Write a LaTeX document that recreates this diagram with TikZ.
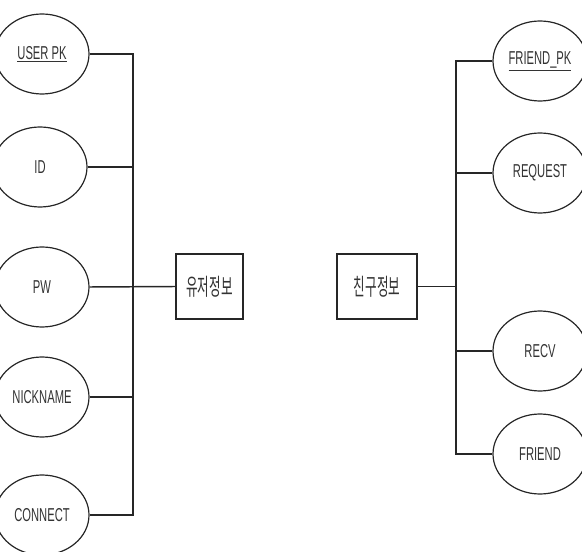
\documentclass[tikz,border=0pt]{standalone}
\usepackage{fontspec}
\setmainfont[FakeStretch=0.6]{Liberation Sans}
\newfontfamily\kofont[FakeStretch=0.54]{Noto Sans CJK KR}
\usetikzlibrary{shapes.geometric}
\begin{document}
\begin{tikzpicture}[x=0.75pt,y=-0.75pt,
  attr/.style={draw=black!85, line width=0.9pt, ellipse, minimum width=70.5pt,
    minimum height=60pt, inner sep=0pt, text=black!80, font=\fontsize{14}{16}\selectfont},
  entity/.style={draw=black!85, line width=0.9pt, rectangle, inner sep=0pt,
    text=black!80, font=\kofont\fontsize{17.5}{19}\selectfont},
  link/.style={draw=black!85, line width=1.1pt}]
\useasboundingbox (0,0) rectangle (582,552);

% user entity and its attributes
\node[entity, minimum width=50.25pt, minimum height=48.75pt] (user) at (209.5,286.5) {유저정보};
\node[attr] (upk)  at (42,54)  {\underline{USER PK}};
\node[attr] (uid)  at (40,167) {ID};
\node[attr] (upw)  at (42,287) {PW};
\node[attr] (unick) at (42,397) {NICKNAME};
\node[attr] (ucon) at (42,515) {CONNECT};

\coordinate (ubusTop) at (133,54);
\coordinate (ubusBot) at (133,515);
\draw[link] (upk.east) -- (ubusTop) -- (ubusBot) -- (ucon.east);
\draw[link] (uid.east) -- (133,167);
\draw[link] (unick.east) -- (133,397);
\draw[link] (upw.east) -- (user.west);

% friend entity and its attributes
\node[entity, minimum width=60pt, minimum height=48.75pt] (friend) at (377,286.5) {친구정보};
\node[attr] (fpk)  at (540,61)  {\underline{FRIEND\_PK}};
\node[attr] (freq) at (540,173) {REQUEST};
\node[attr] (frecv) at (540,351) {RECV};
\node[attr] (ffr)  at (540,454) {FRIEND};

\coordinate (fbusTop) at (456,61);
\coordinate (fbusBot) at (456,454);
\draw[link] (fpk.west) -- (fbusTop) -- (fbusBot) -- (ffr.west);
\draw[link] (freq.west) -- (456,173);
\draw[link] (frecv.west) -- (456,351);
\draw[link] (friend.east) -- (456,286.5);
\end{tikzpicture}
\end{document}
